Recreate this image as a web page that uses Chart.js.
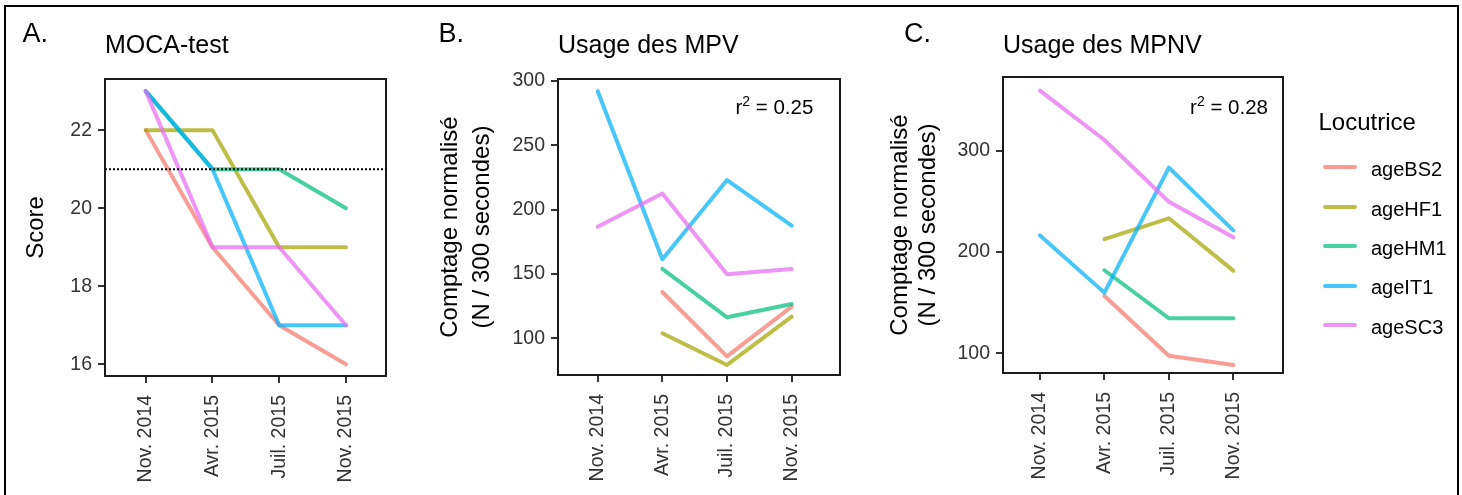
<!DOCTYPE html>
<html>
<head>
<meta charset="utf-8">
<script src="https://cdn.jsdelivr.net/npm/chart.js@4.4.1/dist/chart.umd.min.js"></script>
<style>
  html, body { margin: 0; padding: 0; background: #fff; width: 1462px; height: 495px; overflow: hidden;
    font-family: "Liberation Sans", Arial, Helvetica, sans-serif; }
  #frame { position: absolute; left: 4px; top: 5px; width: 1455px; height: 600px; border: 2px solid #000; box-sizing: border-box; }
  canvas { position: absolute; top: 0; }
  .t { position: absolute; white-space: nowrap; line-height: 1; color: #000; }
  .key { position: absolute; height: 4px; width: 34px; border-radius: 2px; }
</style>
</head>
<body>
<div id="frame"></div>
<canvas id="cA" width="420" height="495" style="left:0px"></canvas>
<canvas id="cB" width="460" height="495" style="left:420px"></canvas>
<canvas id="cC" width="420" height="495" style="left:880px"></canvas>

<div class="t" style="left:22.5px;top:20.4px;font-size:27px">A.</div>
<div class="t" style="left:438.5px;top:20.4px;font-size:27px">B.</div>
<div class="t" style="left:904px;top:20.4px;font-size:27px">C.</div>

<div class="t" id="titleA" style="left:105px;top:32.1px;font-size:25px"></div>
<div class="t" id="titleB" style="left:558px;top:32.1px;font-size:25px"></div>
<div class="t" id="titleC" style="left:1003px;top:32.1px;font-size:25px"></div>

<div class="t" id="r2B" style="right:648.7px;top:96.6px;font-size:20.5px"></div>
<div class="t" id="r2C" style="right:194px;top:96.6px;font-size:20.5px"></div>

<div id="legend"></div>

<script>
// ---------------- DATA ----------------
const CATEGORIES = ["Nov. 2014", "Avr. 2015", "Juil. 2015", "Nov. 2015"];
const SPEAKERS = ["ageBS2", "ageHF1", "ageHM1", "ageIT1", "ageSC3"];
const LEGEND_TITLE = "Locutrice";

const TITLE_A = "MOCA-test";
const TITLE_B = "Usage des MPV";
const TITLE_C = "Usage des MPNV";
const YTITLE_A = "Score";
const YTITLE_BC = ["Comptage normalisé", "(N / 300 secondes)"];

// Panel A: MOCA-test score
const MOCA_BS2 = [22, 19, 17, 16];
const MOCA_HF1 = [22, 22, 19, 19];
const MOCA_HM1 = [23, 21, 21, 20];
const MOCA_IT1 = [23, 21, 17, 17];
const MOCA_SC3 = [23, 19, 19, 17];
const MOCA_THRESHOLD = 21;
const MOCA_TICKS = [16, 18, 20, 22];

// Panel B: Usage des MPV
const MPV_BS2 = [null, 136, 86, 124.6];
const MPV_HF1 = [null, 103.9, 79.3, 116.8];
const MPV_HM1 = [null, 154, 116.3, 126.7];
const MPV_IT1 = [292, 161.4, 223, 187.6];
const MPV_SC3 = [186.7, 212.5, 149.7, 153.9];
const MPV_TICKS = [100, 150, 200, 250, 300];
const MPV_R2 = "0.25";

// Panel C: Usage des MPNV
const MPNV_BS2 = [null, 156.6, 97.5, 88.4];
const MPNV_HF1 = [null, 212.7, 233.3, 181.6];
const MPNV_HM1 = [null, 182, 134.6, 134.6];
const MPNV_IT1 = [216.4, 159.9, 283.4, 221.4];
const MPNV_SC3 = [359.4, 310.7, 249.7, 214.6];
const MPNV_TICKS = [100, 200, 300];
const MPNV_R2 = "0.28";

// ---------------- STYLE ----------------
const LINE_COLORS = [
  "rgba(248,118,109,0.72)",
  "rgba(163,165,0,0.72)",
  "rgba(0,191,125,0.72)",
  "rgba(0,176,246,0.72)",
  "rgba(231,107,243,0.72)"
];
const FONT_FAMILY = '"Liberation Sans", Arial, Helvetica, sans-serif';
const TICK_COLOR = "#333333";
const TICK_FONT = { family: FONT_FAMILY, size: 19.5 };

const panelBorder = {
  id: "panelBorder",
  afterDatasetsDraw(chart) {
    const { ctx, chartArea: a } = chart;
    ctx.save();
    ctx.strokeStyle = "#1a1a1a";
    ctx.lineWidth = 2;
    ctx.strokeRect(a.left, a.top, a.right - a.left, a.bottom - a.top);
    ctx.restore();
  }
};

const thresholdLine = {
  id: "thresholdLine",
  afterDatasetsDraw(chart, args, opts) {
    if (opts.value == null) return;
    const { ctx, chartArea: a } = chart;
    const y = chart.scales.y.getPixelForValue(opts.value);
    ctx.save();
    ctx.strokeStyle = "#000";
    ctx.lineWidth = 2;
    ctx.setLineDash([2, 2]);
    ctx.beginPath();
    ctx.moveTo(a.left, y);
    ctx.lineTo(a.right, y);
    ctx.stroke();
    ctx.restore();
  }
};

function makeChart(id, series, cfg) {
  const datasets = series.map((vals, i) => ({
    label: SPEAKERS[i],
    data: vals.map((v, j) => ({ x: j, y: v })),
    borderColor: LINE_COLORS[i],
    backgroundColor: LINE_COLORS[i],
    borderWidth: 4,
    pointRadius: 0,
    pointHoverRadius: 0,
    tension: 0,
    borderCapStyle: "round",
    borderJoinStyle: "round",
    spanGaps: false,
    fill: false,
    order: series.length - i
  }));
  const grid = {
    display: true, drawOnChartArea: false, drawTicks: true,
    tickLength: 7, tickWidth: 2, tickColor: "#333333", color: "#333333", lineWidth: 2
  };
  return new Chart(document.getElementById(id), {
    type: "line",
    data: { datasets },
    options: {
      responsive: false,
      animation: false,
      devicePixelRatio: 1,
      events: [],
      layout: { padding: { left: 0, top: cfg.top, right: cfg.padRight, bottom: 0 } },
      plugins: {
        legend: { display: false },
        tooltip: { enabled: false },
        title: { display: false },
        thresholdLine: { value: cfg.threshold }
      },
      scales: {
        x: {
          type: "linear",
          min: cfg.xmin, max: cfg.xmax,
          afterBuildTicks: s => { s.ticks = CATEGORIES.map((_, i) => ({ value: i })); },
          afterFit: s => { s.height = cfg.xHeight; },
          ticks: {
            autoSkip: false, minRotation: 90, maxRotation: 90, padding: 12,
            color: TICK_COLOR, font: TICK_FONT,
            callback: v => CATEGORIES[v]
          },
          grid: grid,
          border: { display: false }
        },
        y: {
          type: "linear",
          min: cfg.ymin, max: cfg.ymax,
          afterBuildTicks: s => { s.ticks = cfg.yTicks.map(v => ({ value: v })); },
          afterFit: s => { s.width = cfg.yWidth; },
          ticks: { padding: 6, color: TICK_COLOR, font: TICK_FONT, callback: v => String(v) },
          grid: grid,
          border: { display: false },
          title: {
            display: true, text: cfg.yTitle, color: "#000",
            font: { family: FONT_FAMILY, size: 24, lineHeight: cfg.titleLH },
            padding: { top: cfg.titlePad, bottom: 0 }
          }
        }
      }
    },
    plugins: [panelBorder, thresholdLine]
  });
}

makeChart("cA", [MOCA_BS2, MOCA_HF1, MOCA_HM1, MOCA_IT1, MOCA_SC3], {
  top: 79, padRight: 34, xHeight: 119, yWidth: 105,
  xmin: -0.61, xmax: 3.6, ymin: 15.7, ymax: 23.31, yTicks: MOCA_TICKS,
  yTitle: YTITLE_A, titleLH: 1.2, titlePad: 22.3, threshold: MOCA_THRESHOLD
});

makeChart("cB", [MPV_BS2, MPV_HF1, MPV_HM1, MPV_IT1, MPV_SC3], {
  top: 79, padRight: 40, xHeight: 120, yWidth: 138,
  xmin: -0.614, xmax: 3.747, ymin: 71.47, ymax: 301.55, yTicks: MPV_TICKS,
  yTitle: YTITLE_BC, titleLH: 1.3625, titlePad: 13.65, threshold: null
});

makeChart("cC", [MPNV_BS2, MPNV_HF1, MPNV_HM1, MPNV_IT1, MPNV_SC3], {
  top: 77, padRight: 17, xHeight: 122, yWidth: 123,
  xmin: -0.574, xmax: 3.771, ymin: 80.5, ymax: 372.9, yTicks: MPNV_TICKS,
  yTitle: YTITLE_BC, titleLH: 1.1625, titlePad: 6.25, threshold: null
});

// ---------------- TEXT ----------------
document.getElementById("titleA").textContent = TITLE_A;
document.getElementById("titleB").textContent = TITLE_B;
document.getElementById("titleC").textContent = TITLE_C;
function r2html(val) {
  return 'r<span style="font-size:14px;position:relative;top:-8px">2</span> = ' + val;
}
document.getElementById("r2B").innerHTML = r2html(MPV_R2);
document.getElementById("r2C").innerHTML = r2html(MPNV_R2);

// ---------------- LEGEND ----------------
(function () {
  const lg = document.getElementById("legend");
  const title = document.createElement("div");
  title.className = "t";
  title.style.cssText = "left:1318.5px;top:109.7px;font-size:24px";
  title.textContent = LEGEND_TITLE;
  lg.appendChild(title);
  SPEAKERS.forEach((name, i) => {
    const cy = 167.3 + i * 39.45;
    const key = document.createElement("div");
    key.className = "key";
    key.style.left = "1323px";
    key.style.top = (cy - 2) + "px";
    key.style.background = LINE_COLORS[i];
    lg.appendChild(key);
    const lab = document.createElement("div");
    lab.className = "t";
    lab.style.left = "1371px";
    lab.style.top = (cy + 8.7 - 16.93) + "px";
    lab.style.fontSize = "20px";
    lab.textContent = name;
    lg.appendChild(lab);
  });
})();
</script>
</body>
</html>
